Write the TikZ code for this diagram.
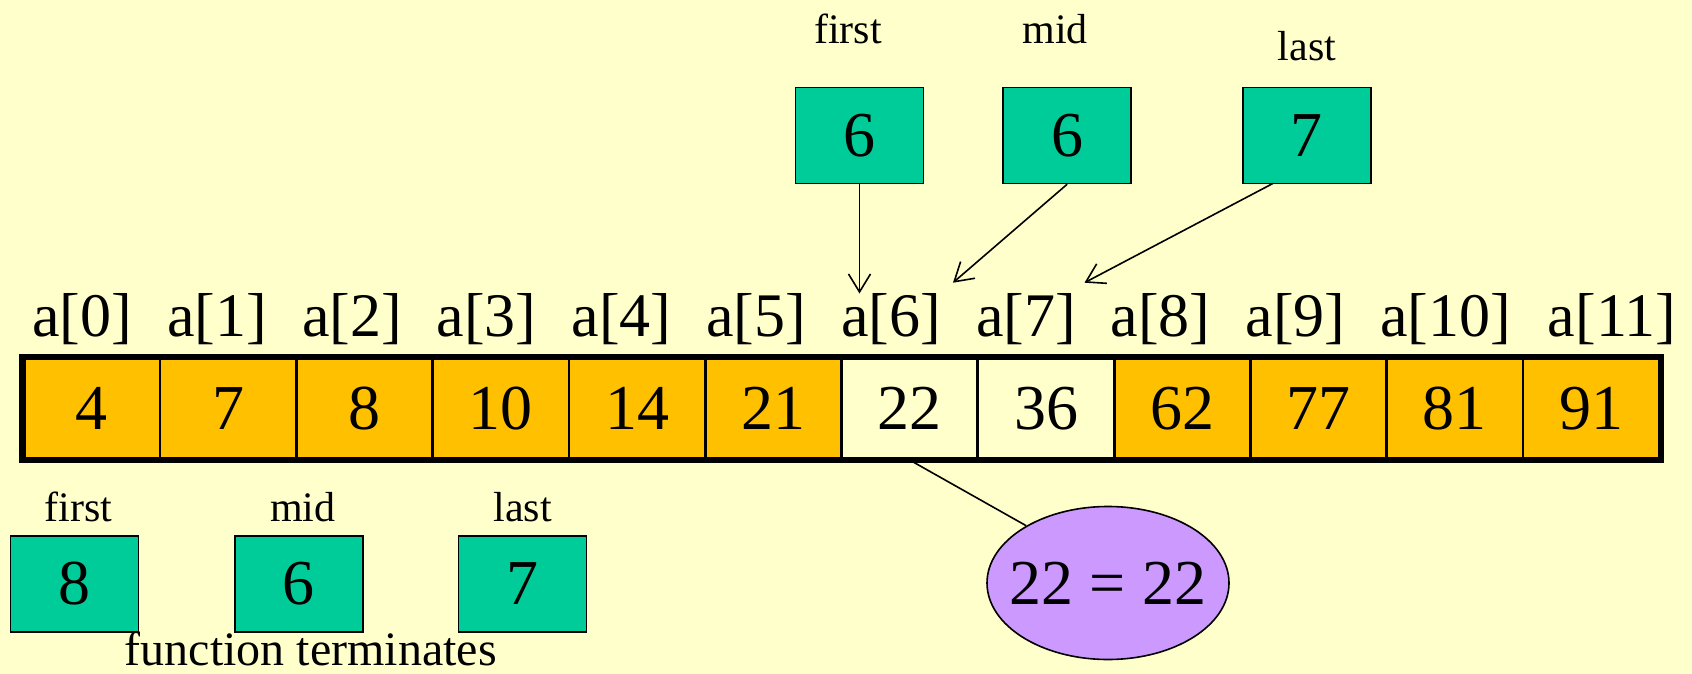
\documentclass[tikz,border=0pt]{standalone}
\usepackage{fontspec}
\setmainfont{Liberation Serif}
\usetikzlibrary{shapes.geometric,arrows.meta}

\definecolor{paper}{HTML}{FFFFCC}
\definecolor{gold}{HTML}{FFC000}
\definecolor{varbox}{HTML}{00CC99}
\definecolor{lilac}{HTML}{CC99FF}

\tikzset{
  cell/.style={draw, line width=1.4pt, minimum width=68.15pt, minimum height=50.15pt,
    inner sep=0pt, font=\fontsize{32}{38}\selectfont},
  active/.style={cell},
  dropped/.style={cell, fill=gold},
  idx/.style={inner sep=0pt, anchor=base west, font=\fontsize{31}{37}\selectfont},
  var/.style={draw, line width=0.8pt, fill=varbox, minimum width=64pt, minimum height=48pt,
    inner sep=0pt, font=\fontsize{32}{38}\selectfont},
  varname/.style={inner sep=0pt, font=\fontsize{21}{25}\selectfont},
}

\begin{document}
\begin{tikzpicture}[x=0.5pt, y=-0.5pt, >={Straight Barb[length=9pt, width=11pt]}]
      \useasboundingbox (0,0) rectangle (1692,674);
      \fill[paper] (0,0) rectangle (1692,674);
      \node[dropped] (c0) at (91.9,408.5) {4};
      \node[dropped] (c1) at (228.2,408.5) {7};
      \node[dropped] (c2) at (364.5,408.5) {8};
      \node[dropped] (c3) at (500.8,408.5) {10};
      \node[dropped] (c4) at (637.1,408.5) {14};
      \node[dropped] (c5) at (773.4,408.5) {21};
      \node[active] (c6) at (909.7,408.5) {22};
      \node[active] (c7) at (1046.0,408.5) {36};
      \node[dropped] (c8) at (1182.3,408.5) {62};
      \node[dropped] (c9) at (1318.6,408.5) {77};
      \node[dropped] (c10) at (1454.9,408.5) {81};
      \node[dropped] (c11) at (1591.2,408.5) {91};
      \draw[line width=3.2pt] (c0.north west) rectangle (c11.south east);
      \node[idx] (i0) at (32,336) {a[0]};
      \node[idx] (i1) at (166.8,336) {a[1]};
      \node[idx] (i2) at (301.6,336) {a[2]};
      \node[idx] (i3) at (436.4,336) {a[3]};
      \node[idx] (i4) at (571.2,336) {a[4]};
      \node[idx] (i5) at (706,336) {a[5]};
      \node[idx] (i6) at (840.8,336) {a[6]};
      \node[idx] (i7) at (975.6,336) {a[7]};
      \node[idx] (i8) at (1110.4,336) {a[8]};
      \node[idx] (i9) at (1245.2,336) {a[9]};
      \node[idx] (i10) at (1380,336) {a[10]};
      \node[idx] (i11) at (1547.5,336) {a[11]};
      \node[var] (first) at (859.5,135.4) {6};
      \node[var] (mid) at (1067.2,135.4) {6};
      \node[var] (last) at (1306.8,135.4) {7};
      \node[varname] at (848,29) {first};
      \node[varname] at (1055,29) {mid};
      \node[varname] at (1307,46) {last};
      \coordinate (firstTip) at (859.5,293.5);
      \coordinate (midTip) at (953,282.7);
      \coordinate (lastTip) at (1084.5,282.7);
      \coordinate (lastFoot) at (1273,183.4);
      \begin{scope}[->, line width=0.8pt]
        \draw (first) to (firstTip);
        \draw (mid.south) to (midTip);
        \draw (lastFoot) to (lastTip);
      \end{scope}
      \node[draw, ellipse, line width=0.8pt, fill=lilac, minimum width=121pt, minimum height=76.5pt,
        inner xsep=-7pt, inner ysep=0pt, font=\fontsize{32}{38}\selectfont] (eq) at (1108,583) {22 = 22};
      \draw[line width=0.8pt] (c6.south) to (eq.145);
      \node[var] (endFirst) at (74.5,583.8) {8};
      \node[var] (endMid) at (298.9,583.8) {6};
      \node[var] (endLast) at (522.3,583.8) {7};
      \node[varname] at (78.8,507) {first};
      \node[varname] at (302.7,507) {mid};
      \node[varname] at (522.8,507) {last};
      \node[inner sep=0pt, anchor=base, font=\fontsize{24}{28}\selectfont] (done) at (310.8,665) {function terminates};
    \end{tikzpicture}
\end{document}
